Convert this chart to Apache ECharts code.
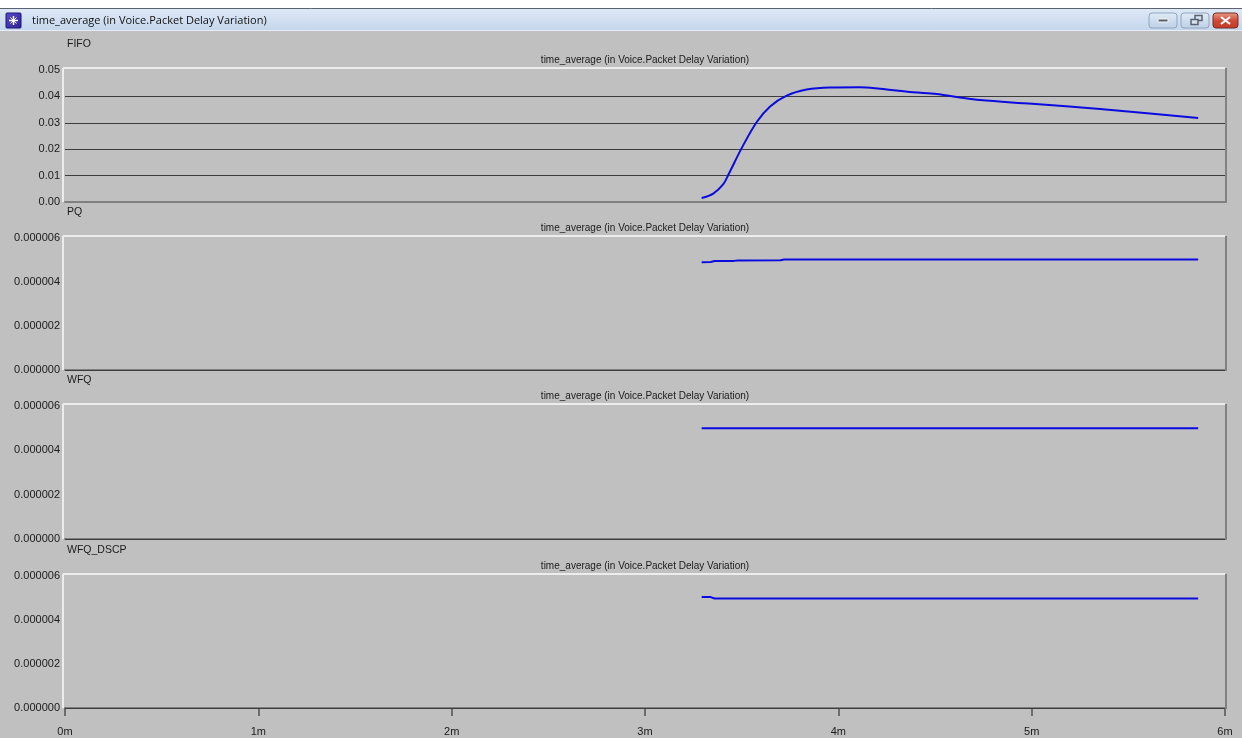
<!DOCTYPE html>
<html>
<head>
<meta charset="utf-8">
<script src="https://cdn.jsdelivr.net/npm/echarts@6/dist/echarts.min.js"></script>
<style>
  html, body { margin: 0; padding: 0; background: #c0c0c0; }
  #chart { width: 1242px; height: 738px; }
</style>
</head>
<body>
<div id="chart"></div>
<script>
// ---- text ----
const windowTitle = 'time_average (in Voice.Packet Delay Variation)';
const seriesTitle = 'time_average (in Voice.Packet Delay Variation)';
const panelNames = ['FIFO', 'PQ', 'WFQ', 'WFQ_DSCP'];

// ---- axis ticks ----
const timeTicks = [0, 1, 2, 3, 4, 5, 6];                 // minutes
const fifoTicks = [0, 0.01, 0.02, 0.03, 0.04, 0.05];     // seconds
const smallTicks = [0, 0.000002, 0.000004, 0.000006];    // seconds

// ---- series (time in minutes, value in seconds) ----
const fifoTime  = [3.293, 3.353, 3.405, 3.431, 3.500, 3.578, 3.647, 3.733, 3.836, 3.957, 4.112, 4.216, 4.386, 4.509, 4.612, 4.733, 5.002, 5.354, 5.612, 5.861];
const fifoValue = [0.0015, 0.0032, 0.0068, 0.0103, 0.0204, 0.0303, 0.0362, 0.0403, 0.0426, 0.0434, 0.0435, 0.0429, 0.0416, 0.0409, 0.0398, 0.0386, 0.0372, 0.0352, 0.0335, 0.0318];

const pqTime  = [3.293, 3.340, 3.360, 3.460, 3.480, 3.700, 3.720, 5.861];
const pqValue = [0.00000490, 0.00000491, 0.00000495, 0.00000496, 0.00000498, 0.00000499, 0.00000502, 0.00000502];

const wfqTime  = [3.293, 5.861];
const wfqValue = [0.00000500, 0.00000500];

const dscpTime  = [3.293, 3.340, 3.360, 5.861];
const dscpValue = [0.00000504, 0.00000504, 0.00000498, 0.00000498];

// ---- layout ----
const plotLeft = 65;
const plotRight = 1225;
const panelTops = [70, 238, 406, 576];
const panelHeights = [132, 132, 133, 132];
const bg = '#c0c0c0';
const lineBlue = '#0b0be0';
const gridDark = '#3c3c3c';
const labelFont = '"Liberation Sans", Arial, sans-serif';

const zip = (xs, ys) => xs.map((x, i) => [x, ys[i]]);
const panelData = [
  zip(fifoTime, fifoValue),
  zip(pqTime, pqValue),
  zip(wfqTime, wfqValue),
  zip(dscpTime, dscpValue)
];
const panelTicks = [fifoTicks, smallTicks, smallTicks, smallTicks];
const panelDigits = [2, 6, 6, 6];

const chart = echarts.init(document.getElementById('chart'), null, { renderer: 'canvas' });

const grids = [], xAxes = [], yAxes = [], series = [], graphics = [];

panelTops.forEach((top, i) => {
  const height = panelHeights[i];
  const isLast = i === panelTops.length - 1;
  const ticks = panelTicks[i];
  const step = ticks[1] - ticks[0];

  grids.push({ left: plotLeft, width: plotRight - plotLeft, top: top, height: height, containLabel: false });

  xAxes.push({
    type: 'value', gridIndex: i,
    min: timeTicks[0], max: timeTicks[timeTicks.length - 1], interval: 1,
    axisLine: { show: true, onZero: false, lineStyle: { color: '#808080', width: 2 } },
    axisTick: { show: isLast, inside: false, length: 8, lineStyle: { color: '#505050', width: 1.5 } },
    axisLabel: {
      show: isLast, margin: 18, color: '#1a1a1a', fontSize: 11, fontFamily: labelFont,
      formatter: v => v + 'm'
    },
    splitLine: { show: false }
  });

  yAxes.push({
    type: 'value', gridIndex: i,
    min: ticks[0], max: ticks[ticks.length - 1], interval: step,
    axisLine: { show: false },
    axisTick: { show: false },
    axisLabel: {
      show: true, margin: 5, color: '#1a1a1a', fontSize: 11, fontFamily: labelFont,
      formatter: v => Number(v).toFixed(panelDigits[i])
    },
    splitLine: { show: false }
  });

  series.push({
    type: 'line', xAxisIndex: i, yAxisIndex: i,
    data: panelData[i],
    showSymbol: false,
    smooth: i === 0 ? 0.35 : false,
    lineStyle: { color: lineBlue, width: 2 },
    animation: false,
    silent: true,
    markLine: {
      silent: true, symbol: 'none', animation: false,
      label: { show: false },
      lineStyle: { color: gridDark, width: 1, type: 'solid' },
      data: ticks.slice(1, -1).map(v => ({ yAxis: v }))
    },
    z: 5
  });

  // raised frame: light top/left, dark right
  graphics.push(
    { type: 'line', shape: { x1: plotLeft - 2, y1: top - 2, x2: plotRight, y2: top - 2 }, style: { stroke: '#ececec', lineWidth: 2 }, z: 10 },
    { type: 'line', shape: { x1: plotLeft - 2, y1: top - 2, x2: plotLeft - 2, y2: top + height }, style: { stroke: '#ececec', lineWidth: 2 }, z: 10 },
    { type: 'line', shape: { x1: plotRight + 1, y1: top - 2, x2: plotRight + 1, y2: top + height + 1 }, style: { stroke: '#808080', lineWidth: 2 }, z: 10 }
  );

  // panel name and per-panel series title
  graphics.push(
    { type: 'text', x: plotLeft + 2, y: top - 26, style: { text: panelNames[i], fill: '#1a1a1a', font: '10.5px ' + labelFont, textVerticalAlign: 'middle' }, z: 10 },
    { type: 'text', x: (plotLeft + plotRight) / 2, y: top - 10, style: { text: seriesTitle, fill: '#1a1a1a', font: '10px ' + labelFont, textAlign: 'center', textVerticalAlign: 'middle' }, z: 10 }
  );
});

// ---- window title bar ----
graphics.push(
  { type: 'rect', shape: { x: 0, y: 0, width: 1242, height: 8 }, style: { fill: '#ffffff' }, z: 20 },
  { type: 'rect', shape: { x: 0, y: 8, width: 1242, height: 23 },
    style: { fill: new echarts.graphic.LinearGradient(0, 0, 0, 1, [
      { offset: 0, color: '#dfe9f6' }, { offset: 1, color: '#c4d6ec' }
    ]) }, z: 20 },
  { type: 'line', shape: { x1: 0, y1: 8.5, x2: 1242, y2: 8.5 }, style: { stroke: '#5a6470', lineWidth: 1 }, z: 21 },
  { type: 'line', shape: { x1: 0, y1: 30.5, x2: 1242, y2: 30.5 }, style: { stroke: '#e8eef6', lineWidth: 1 }, z: 21 },
  // app icon
  { type: 'rect', shape: { x: 6, y: 13, width: 15, height: 15, r: 1 },
    style: { fill: new echarts.graphic.LinearGradient(0, 0, 1, 1, [
      { offset: 0, color: '#5a4fd0' }, { offset: 1, color: '#2a1f90' }
    ]), stroke: '#1d1670', lineWidth: 1 }, z: 21 },
  { type: 'line', shape: { x1: 9, y1: 20.5, x2: 18, y2: 20.5 }, style: { stroke: '#ffffff', lineWidth: 1.5 }, z: 22 },
  { type: 'line', shape: { x1: 13.5, y1: 16, x2: 13.5, y2: 25 }, style: { stroke: '#ffffff', lineWidth: 1.5 }, z: 22 },
  { type: 'line', shape: { x1: 10.5, y1: 17.5, x2: 16.5, y2: 23.5 }, style: { stroke: '#ffffff', lineWidth: 1 }, z: 22 },
  { type: 'line', shape: { x1: 16.5, y1: 17.5, x2: 10.5, y2: 23.5 }, style: { stroke: '#ffffff', lineWidth: 1 }, z: 22 },
  { type: 'text', x: 32, y: 21, style: { text: windowTitle, fill: '#111111', font: '11px "Open Sans", "Noto Sans", sans-serif', textVerticalAlign: 'middle' }, z: 21 },
  // minimize
  { type: 'rect', shape: { x: 1149, y: 13, width: 28, height: 15, r: 3 },
    style: { fill: new echarts.graphic.LinearGradient(0, 0, 0, 1, [
      { offset: 0, color: '#e2ebf6' }, { offset: 1, color: '#bcd0e6' }
    ]), stroke: '#8ea4c0', lineWidth: 1 }, z: 21 },
  { type: 'rect', shape: { x: 1158, y: 19, width: 10, height: 3 }, style: { fill: '#5a6270', stroke: '#f4f4f4', lineWidth: 1 }, z: 22 },
  // restore
  { type: 'rect', shape: { x: 1181, y: 13, width: 28, height: 15, r: 3 },
    style: { fill: new echarts.graphic.LinearGradient(0, 0, 0, 1, [
      { offset: 0, color: '#e2ebf6' }, { offset: 1, color: '#bcd0e6' }
    ]), stroke: '#8ea4c0', lineWidth: 1 }, z: 21 },
  { type: 'rect', shape: { x: 1195, y: 15.5, width: 7, height: 5 }, style: { fill: 'none', stroke: '#5a6270', lineWidth: 1.5 }, z: 22 },
  { type: 'rect', shape: { x: 1191, y: 19.5, width: 7, height: 5 }, style: { fill: '#d8e3f0', stroke: '#5a6270', lineWidth: 1.5 }, z: 22 },
  // close
  { type: 'rect', shape: { x: 1213, y: 13, width: 25, height: 15, r: 3 },
    style: { fill: new echarts.graphic.LinearGradient(0, 0, 0, 1, [
      { offset: 0, color: '#e8a08e' }, { offset: 0.5, color: '#cf4a36' }, { offset: 1, color: '#c23a28' }
    ]), stroke: '#7a2a20', lineWidth: 1 }, z: 21 },
  { type: 'line', shape: { x1: 1221, y1: 17, x2: 1230, y2: 24 }, style: { stroke: '#ffffff', lineWidth: 2 }, z: 22 },
  { type: 'line', shape: { x1: 1230, y1: 17, x2: 1221, y2: 24 }, style: { stroke: '#ffffff', lineWidth: 2 }, z: 22 }
);

chart.setOption({
  backgroundColor: bg,
  animation: false,
  grid: grids,
  xAxis: xAxes,
  yAxis: yAxes,
  series: series,
  graphic: graphics
});
</script>
</body>
</html>
